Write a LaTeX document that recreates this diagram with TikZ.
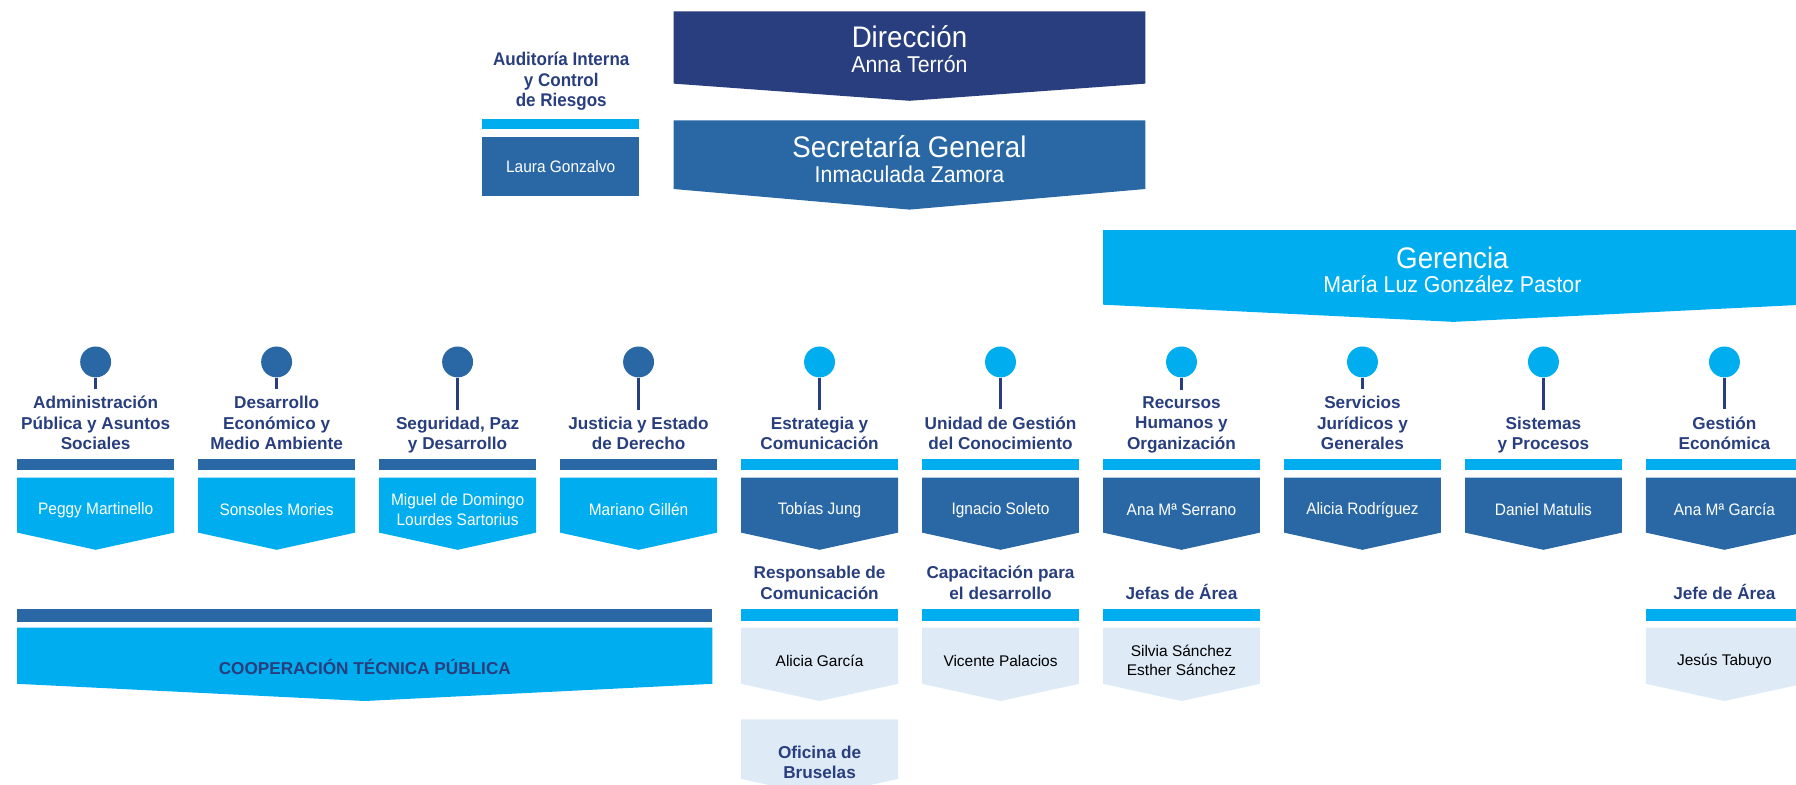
\documentclass[tikz,border=0pt]{standalone}
\usepackage{fontspec}
\setmainfont{Liberation Sans}
\newfontfamily\narrowf{Liberation Sans}[FakeStretch=0.93]
\definecolor{navy}{RGB}{40,62,126}
\definecolor{midblue}{RGB}{42,104,165}
\definecolor{lightblue}{RGB}{0,174,239}
\definecolor{pale}{RGB}{222,234,246}
\newcommand\abox[6]{\fill[#6] (#1,#3) -- (#2,#3) -- (#2,#4) -- ({(#1+#2)/2},#5) -- (#1,#4) -- cycle;}
\begin{document}
\begin{tikzpicture}[x=0.6pt,y=-0.6pt,
  bigt/.style={font=\narrowf\fontsize{15.6pt}{18pt}\selectfont,text=white,inner sep=0},
  bign/.style={font=\narrowf\fontsize{12pt}{14pt}\selectfont,text=white,inner sep=0},
  ttl/.style={font=\bfseries\fontsize{9pt}{10.6pt}\selectfont,text=navy,align=center,inner sep=0,anchor=south},
  wname/.style={font=\narrowf\fontsize{8.7pt}{10.2pt}\selectfont,text=white,align=center,inner sep=0},
  bname/.style={font=\fontsize{8.1pt}{10.2pt}\selectfont,text=black,align=center,inner sep=0},
  pin/.style={circle,inner sep=0,minimum size=16.2pt},
  stem/.style={draw=navy,line width=1.2pt},
]
\useasboundingbox (0,0) rectangle (1568,685);
\clip (0,0) rectangle (1568,685);

% top level
\abox{588}{1000}{10}{73}{88}{navy}
\node[bigt] (dir) at (794,32) {Dirección};
\node[bign] (dirn) at (794,56) {Anna Terrón};
\abox{588}{1000}{105}{165}{183}{midblue}
\node[bigt] (sec) at (794,128) {Secretaría General};
\node[bign] (secn) at (794,152) {Inmaculada Zamora};
\node[ttl,anchor=center,font=\bfseries\narrowf\fontsize{9.6pt}{10.9pt}\selectfont] (aud) at (490,71) {Auditoría Interna\\y Control\\de Riesgos};
\fill[lightblue] (421,104) rectangle (558,113);
\fill[midblue] (421,120) rectangle (558,171);
\node[wname] (audn) at (489.5,145) {Laura Gonzalvo};
\abox{963}{1575}{201}{266}{281}{lightblue}
\node[bigt] (ger) at (1268,225) {Gerencia};
\node[bign] (gern) at (1268,248) {María Luz González Pastor};

% row 1 bars and boxes
\foreach \l in {15,173,331,489} {
  \fill[midblue] (\l,401) rectangle (\l+137,410);
  \abox{\l}{\l+137}{417}{465}{480}{lightblue}
}
\foreach \l in {647,805,963,1121,1279,1437} {
  \fill[lightblue] (\l,401) rectangle (\l+137,410);
  \abox{\l}{\l+137}{417}{465}{480}{midblue}
}

% pins
\foreach \i/\c in {1/83.5,2/241.5,3/399.5,4/557.5} \node[pin,fill=midblue] (p\i) at (\c,316) {};
\foreach \i/\c in {5/715.5,6/873.5,7/1031.5,8/1189.5,9/1347.5,10/1505.5} \node[pin,fill=lightblue] (p\i) at (\c,316) {};

% titles
\node[ttl] (t1) at (83.5,395.7) {Administración\\Pública y Asuntos\\Sociales\vphantom{y}};
\node[ttl] (t2) at (241.5,395.7) {Desarrollo\\Económico y\\Medio Ambiente\vphantom{y}};
\node[ttl] (t3) at (399.5,395.7) {Seguridad, Paz\\y Desarrollo};
\node[ttl] (t4) at (557.5,395.7) {Justicia y Estado\\de Derecho\vphantom{y}};
\node[ttl] (t5) at (715.5,395.7) {Estrategia y\\Comunicación\vphantom{y}};
\node[ttl] (t6) at (873.5,395.7) {Unidad de Gestión\\del Conocimiento\vphantom{y}};
\node[ttl] (t7) at (1031.5,395.7) {Recursos\\Humanos y\\Organización};
\node[ttl] (t8) at (1189.5,395.7) {Servicios\\Jurídicos y\\Generales\vphantom{y}};
\node[ttl] (t9) at (1347.5,395.7) {Sistemas\\y Procesos};
\node[ttl] (t10) at (1505.5,395.7) {Gestión\\Económica\vphantom{y}};
\foreach \i in {1,...,10} \draw[stem] (p\i) -- ([yshift=3.5pt]t\i.north);

% row 1 names
\node[wname] (n1) at (83.5,445) {Peggy Martinello};
\node[wname] (n2) at (241.5,445) {Sonsoles Mories};
\node[wname] (n3) at (399.5,445) {Miguel de Domingo\\Lourdes Sartorius};
\node[wname] (n4) at (557.5,445) {Mariano Gillén};
\node[wname] (n5) at (715.5,445) {Tobías Jung};
\node[wname] (n6) at (873.5,445) {Ignacio Soleto};
\node[wname] (n7) at (1031.5,445) {Ana Mª Serrano};
\node[wname] (n8) at (1189.5,445) {Alicia Rodríguez};
\node[wname] (n9) at (1347.5,445) {Daniel Matulis};
\node[wname] (n10) at (1505.5,445) {Ana Mª García};

% row 2
\fill[midblue] (15,532) rectangle (622,543);
\abox{15}{622}{548}{597}{612}{lightblue}
\node[ttl,anchor=center] (coop) at (318.5,582) {COOPERACIÓN TÉCNICA PÚBLICA};
\foreach \l in {647,805,963,1437} {
  \fill[lightblue] (\l,532) rectangle (\l+137,542);
  \abox{\l}{\l+137}{548}{597}{612}{pale}
}
\node[ttl] (s5) at (715.5,526.5) {Responsable de\\Comunicación\vphantom{y}};
\node[ttl] (s6) at (873.5,526.5) {Capacitación para\\el desarrollo\vphantom{y}};
\node[ttl] (s7) at (1031.5,526.5) {Jefas de Área\vphantom{y}};
\node[ttl] (s10) at (1505.5,526.5) {Jefe de Área\vphantom{y}};
\node[bname] (m5) at (715.5,577) {Alicia García};
\node[bname] (m6) at (873.5,577) {Vicente Palacios};
\node[bname] (m7) at (1031.5,576.5) {Silvia Sánchez\\Esther Sánchez};
\node[bname] (m10) at (1505.5,577) {Jesús Tabuyo};

% Oficina de Bruselas
\abox{647}{784}{628}{680}{695}{pale}
\node[ttl,anchor=center] (ofi) at (715.5,665.5) {Oficina de\\Bruselas};
\end{tikzpicture}
\end{document}
